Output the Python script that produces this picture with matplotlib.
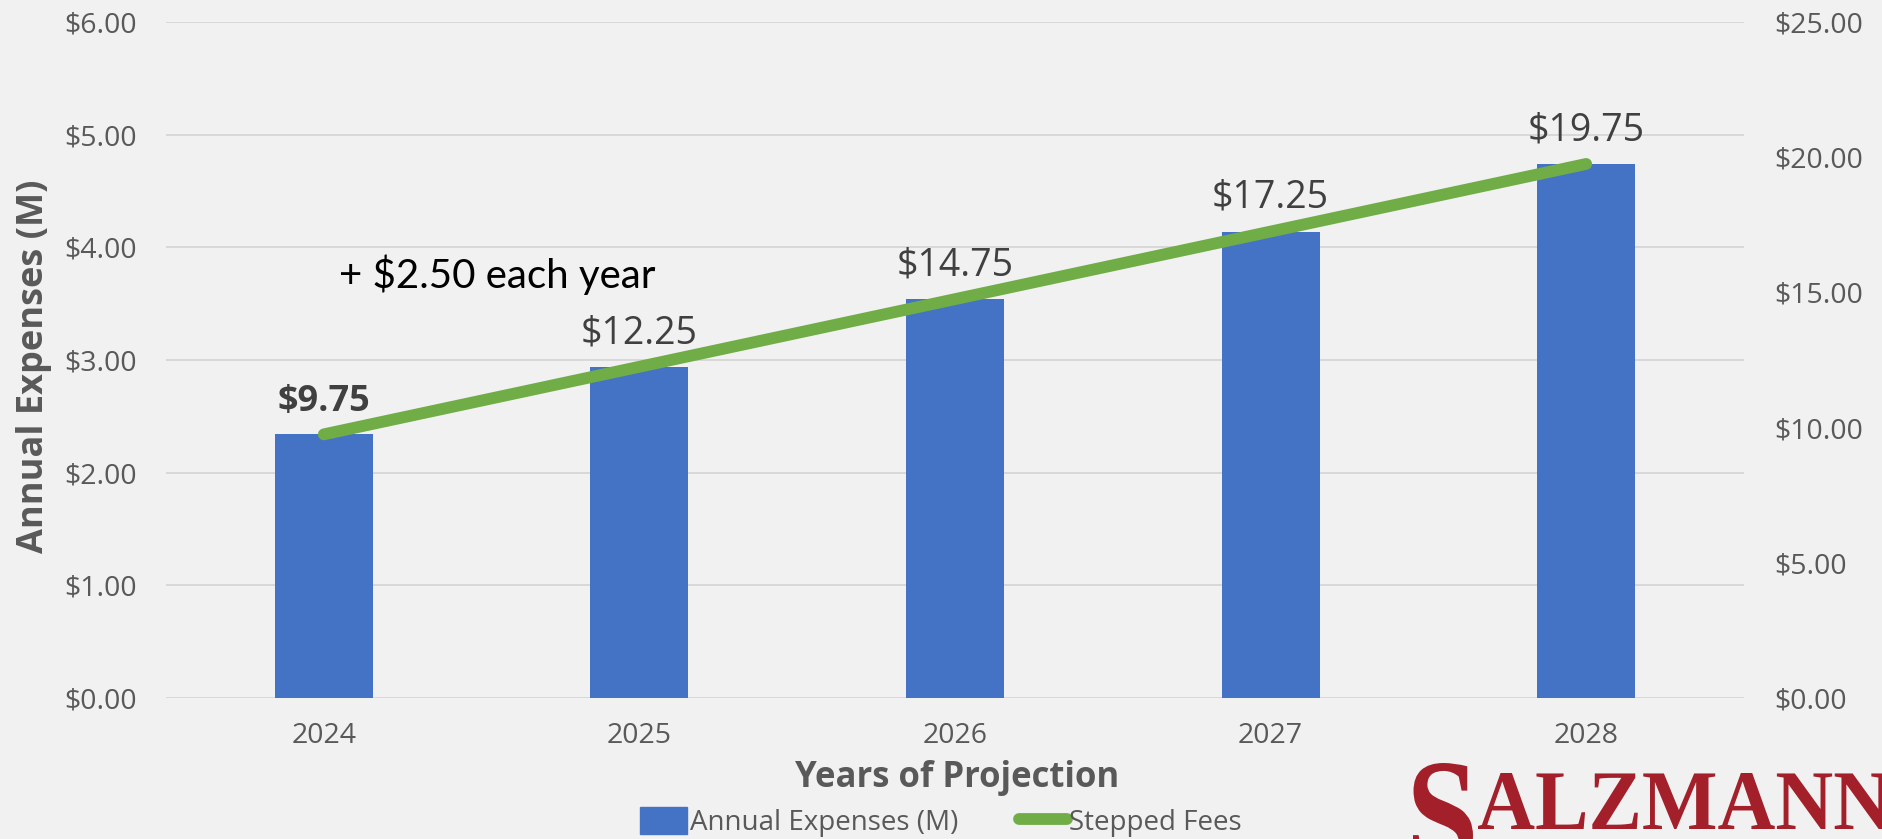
import matplotlib
matplotlib.use("Agg")
import matplotlib.pyplot as plt
from matplotlib.patches import Patch, PathPatch
from matplotlib.lines import Line2D
from matplotlib.textpath import TextPath
from matplotlib.font_manager import FontProperties
from matplotlib.transforms import Affine2D

# data
years = ['2024', '2025', '2026', '2027', '2028']
expenses = [2.34, 2.94, 3.54, 4.14, 4.74]       # Annual Expenses (M), left axis
fees = [9.75, 12.25, 14.75, 17.25, 19.75]       # Stepped Fees, right axis
left_ticks = [0, 1, 2, 3, 4, 5, 6]
right_ticks = [0, 5, 10, 15, 20, 25]

bar_color = '#4472C4'
line_color = '#70AD47'
tick_color = '#595959'
label_color = '#404040'
bg = '#f1f1f1'

plt.rcParams['font.family'] = ['Open Sans', 'DejaVu Sans']

W, H = 1883, 839
fig = plt.figure(figsize=(W / 100, H / 100), dpi=100, facecolor=bg)
ax = fig.add_axes([166 / W, 1 - 698 / H, (1744 - 166) / W, (698 - 22) / H])
ax.set_facecolor('none')

x = list(range(len(years)))
ax.bar(x, expenses, width=0.31, color=bar_color, zorder=2)
ax.set_xlim(-0.5, len(years) - 0.5)
ax.set_ylim(0, 6)
ax.set_yticks(left_ticks)
ax.set_yticklabels([f'${v:.2f}' for v in left_ticks])
ax.set_xticks(x)
ax.set_xticklabels(years)
ax.grid(axis='y', color='#d6d6d6', lw=1.3, zorder=0)
ax.set_axisbelow(True)
for s in ax.spines.values():
    s.set_visible(False)
ax.tick_params(axis='y', length=0, pad=21, labelsize=20.5, labelcolor=tick_color)
ax.tick_params(axis='x', length=0, pad=17, labelsize=20.5, labelcolor=tick_color)

ax2 = ax.twinx()
ax2.plot(x, fees, color=line_color, lw=8.5, solid_capstyle='round', zorder=3)
ax2.set_ylim(0, 25)
ax2.set_yticks(right_ticks)
ax2.set_yticklabels([f'${v:.2f}' for v in right_ticks])
for s in ax2.spines.values():
    s.set_visible(False)
ax2.tick_params(axis='y', length=0, pad=22, labelsize=20.5, labelcolor=tick_color)

# data labels above the line points
for i, v in enumerate(fees):
    ax2.annotate(f'${v:.2f}', (x[i], v), xytext=(0, 17), textcoords='offset points',
                 ha='center', va='baseline', fontsize=26 if i == 0 else 27,
                 fontweight='bold' if i == 0 else 'normal', color=label_color)

ax.text(0.55, 3.64, '+ $2.50 each year', ha='center', va='baseline',
        fontsize=29, color='black', family=['Lato', 'DejaVu Sans'])

fig.text(957 / W, 1 - 778 / H, 'Years of Projection', ha='center', va='center',
         fontsize=25, fontweight='bold', color=tick_color)
fig.text(34 / W, 1 - 366 / H, 'Annual Expenses (M)', ha='center', va='center',
         rotation=90, fontsize=26, fontweight='bold', color=tick_color)

handles = [Patch(color=bar_color, label='Annual Expenses (M)'),
           Line2D([], [], color=line_color, lw=8.5, solid_capstyle='round', label='Stepped Fees')]
fig.legend(handles=handles, loc='center', bbox_to_anchor=(941 / W, 1 - 822 / H), ncol=2,
           frameon=False, fontsize=20, labelcolor=tick_color, handlelength=1.7,
           handleheight=1.1, handletextpad=0.1, columnspacing=2.2)

# logo
logo_color = '#A3202A'
fp = FontProperties(family='Liberation Serif', weight='bold')
tp = TextPath((0, 0), 'ALZMANN', size=1, prop=fp)
ext = tp.get_extents()
sx = 412 / ext.width
sy = 56 / ext.height
tr = Affine2D().translate(-ext.x0, -ext.y0).scale(sx, sy).translate(1478, H - 829)
fig.patches.append(PathPatch(tr.transform_path(tp), transform=None,
                             color=logo_color, lw=0, figure=fig))
sp = TextPath((0, 0), 'S', size=1, prop=fp)
sext = sp.get_extents()
tr = Affine2D().translate(-sext.x0, -sext.y1).scale(60 / sext.width, 105 / sext.height).translate(1413, H - 763)
fig.patches.append(PathPatch(tr.transform_path(sp), transform=None,
                             color=logo_color, lw=0, figure=fig))

fig.savefig('out.png', dpi=100, facecolor=bg)
